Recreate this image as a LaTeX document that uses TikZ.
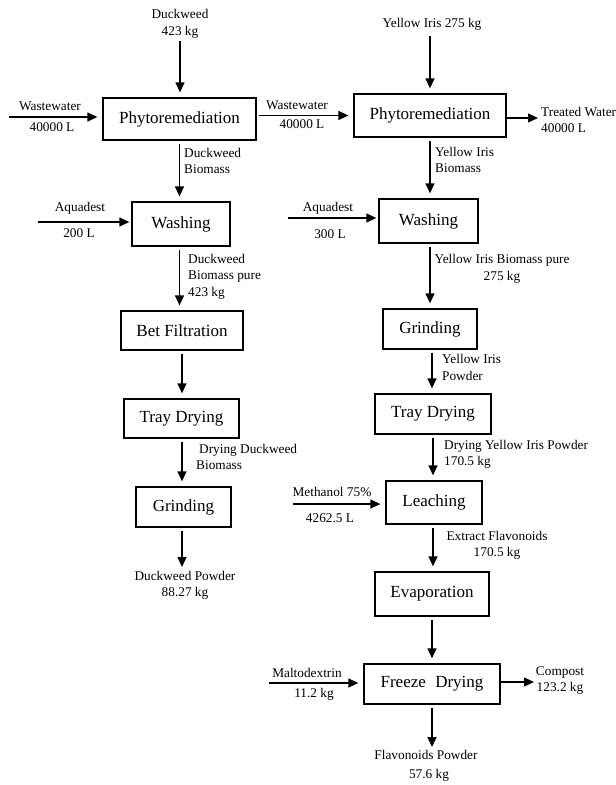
\documentclass[tikz,border=0pt]{standalone}
\usepackage{fontspec}
\setmainfont{Liberation Serif}
\usetikzlibrary{arrows.meta}
\tikzset{
  procbox/.style={draw=black, line width=1.3pt, fill=white, inner sep=0pt, font=\fontsize{17}{20}\selectfont},
  lbl/.style={inner sep=0pt, font=\fontsize{13.3}{16.5}\selectfont},
  arr/.style={line width=1.3pt, -{Triangle[length=10pt,width=9pt]}, shorten >=5pt, shorten <=3pt},
}
\begin{document}
\begin{tikzpicture}[x=1pt,y=-1pt]
\useasboundingbox (0,0) rectangle (616,785);
% ---------- left column boxes
\node[procbox, minimum width=153pt, minimum height=42pt] (phyL) at (179.5,119) {Phytoremediation};
\node[procbox, minimum width=98pt, minimum height=44pt] (washL) at (181,224) {Washing};
\node[procbox, minimum width=122pt, minimum height=39pt] (betL) at (182,330.5) {Bet Filtration};
\node[procbox, minimum width=115pt, minimum height=39pt] (trayL) at (181.5,418.5) {Tray Drying};
\node[procbox, minimum width=95pt, minimum height=40pt] (grindL) at (183.5,507) {Grinding};
% ---------- right column boxes
\node[procbox, minimum width=152pt, minimum height=43pt] (phyR) at (430,115.5) {Phytoremediation};
\node[procbox, minimum width=99pt, minimum height=44pt] (washR) at (428.5,221) {Washing};
\node[procbox, minimum width=94pt, minimum height=40pt] (grindR) at (430,329) {Grinding};
\node[procbox, minimum width=116pt, minimum height=40pt] (trayR) at (433,414) {Tray Drying};
\node[procbox, minimum width=96pt, minimum height=43pt] (leach) at (434,502.5) {Leaching};
\node[procbox, minimum width=114pt, minimum height=44pt] (evap) at (432,594) {Evaporation};
\node[procbox, minimum width=136pt, minimum height=40pt] (freeze) at (432,684) {Freeze\hspace{0.3em} Drying};
% ---------- free ends
\coordinate (dwin) at (180,38);
\coordinate (wwin) at (9,117);
\coordinate (aqL) at (38,222);
\coordinate (dwout) at (182,567);
\coordinate (yiin) at (430,33);
\coordinate (aqR) at (288,218);
\coordinate (twout) at (538,118);
\coordinate (meth) at (293,504);
\coordinate (malt) at (269,683);
\coordinate (comp) at (534,682);
\coordinate (flout) at (432,747);
% ---------- left connectors
\draw[arr] (dwin) -- (dwin |- phyL.north);
\draw[arr, shorten <=0pt] (wwin) -- (wwin -| phyL.west);
\draw[arr] (phyL.south) -- (phyL.south |- washL.north);
\draw[arr, shorten <=0pt, shorten >=2pt] (aqL) -- (aqL -| washL.west);
\draw[arr] (washL.south -| phyL.south) -- (phyL.south |- betL.north);
\draw[arr] (betL.south) -- (betL.south |- trayL.north);
\draw[arr] (betL.south |- trayL.south) -- (betL.south |- grindL.north);
\draw[arr, shorten >=0pt] (betL.south |- grindL.south) -- (dwout);
% ---------- right connectors
\draw[arr] (yiin) -- (yiin |- phyR.north);
\draw[arr, shorten <=2pt] (phyL.east |- phyR.west) -- (phyR.west);
\draw[arr, shorten >=0pt, shorten <=0pt] (phyR.east |- twout) -- (twout);
\draw[arr] (phyR.south) -- (phyR.south |- washR.north);
\draw[arr, shorten <=0pt, shorten >=2pt] (aqR) -- (aqR -| washR.west);
\draw[arr] (phyR.south |- washR.south) -- (phyR.south |- grindR.north);
\draw[arr] (grindR.south) ++(2,0) coordinate (gR) -- (gR |- trayR.north);
\draw[arr] (trayR.south) -- (trayR.south |- leach.north);
\draw[arr, shorten <=0pt] (meth) -- (meth -| leach.west);
\draw[arr] (trayR.south |- leach.south) -- (trayR.south |- evap.north);
\draw[arr] (evap.south) -- (evap.south |- freeze.north);
\draw[arr, shorten <=0pt] (malt) -- (malt -| freeze.west);
\draw[arr, shorten <=0pt, shorten >=0pt] (freeze.east |- comp) -- (comp);
\draw[arr, shorten >=0pt] (freeze.south) -- (flout);
% ---------- labels left
\node[lbl, align=center] (tdw) at (180,24) {Duckweed\\423 kg};
\node[lbl] (twwa) at (50,106) {Wastewater};
\node[lbl] (twwb) at (52,127) {40000 L};
\node[lbl, align=left, anchor=west] (tdwb) at (184,161) {Duckweed\\Biomass};
\node[lbl] (taqLa) at (80,208) {Aquadest};
\node[lbl] (taqLb) at (79,233) {200 L};
\node[lbl, align=left, anchor=west] (tdwp) at (188,276.5) {Duckweed\\Biomass pure\\423 kg};
\node[lbl, align=left, anchor=west] (tddb) at (196,457) {\hspace{3pt}Drying Duckweed\\Biomass};
\node[lbl, align=center] (tdwpow) at (185,585.5) {Duckweed Powder\\88.27 kg};
% ---------- labels right
\node[lbl] (tyi) at (432,24) {Yellow Iris 275 kg};
\node[lbl] (twwma) at (297,105) {Wastewater};
\node[lbl] (twwmb) at (302,124) {40000 L};
\node[lbl, align=left, anchor=west] (ttw) at (541,120) {Treated Water\\40000 L};
\node[lbl, align=left, anchor=west] (tyib) at (435,160) {Yellow Iris\\Biomass};
\node[lbl] (taqRa) at (328,208) {Aquadest};
\node[lbl] (taqRb) at (330,234) {300 L};
\node[lbl, align=center] (tyibp) at (502,269) {Yellow Iris Biomass pure\\275 kg};
\node[lbl, align=left, anchor=west] (tyip) at (442,367.5) {Yellow Iris\\Powder};
\node[lbl, align=left, anchor=west] (tdyi) at (444,454.5) {Drying Yellow Iris Powder\\170.5 kg};
\node[lbl] (tmea) at (332,492) {Methanol 75\%};
\node[lbl] (tmeb) at (330,518) {4262.5 L};
\node[lbl, align=center] (tef) at (497,545.5) {Extract Flavonoids\\170.5 kg};
\node[lbl] (tmaa) at (307,673) {Maltodextrin};
\node[lbl] (tmab) at (314,694) {11.2 kg};
\node[lbl, align=center] (tco) at (560,680.5) {Compost\\123.2 kg};
\node[lbl] (tfpa) at (426,755) {Flavonoids Powder};
\node[lbl] (tfpb) at (429,775) {57.6 kg};
\end{tikzpicture}
\end{document}
